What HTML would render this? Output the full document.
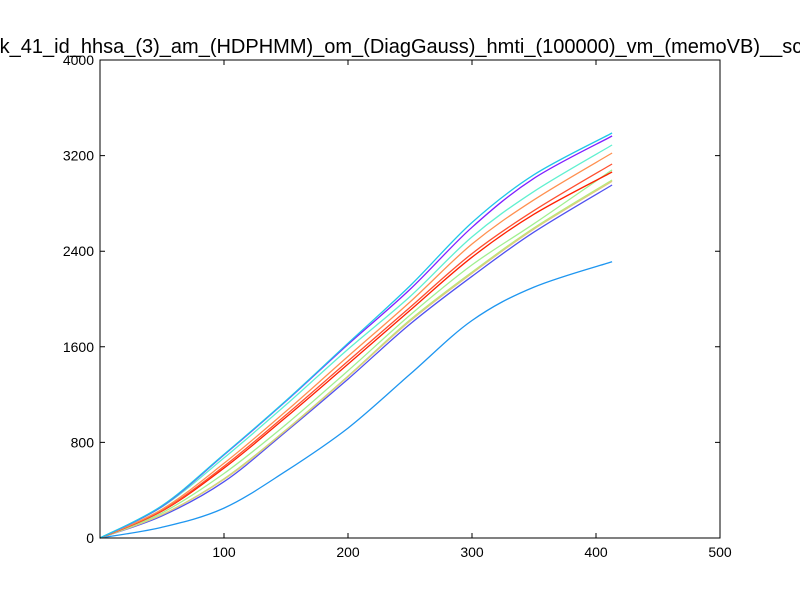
<!DOCTYPE html>
<html><head><meta charset="utf-8"><style>
body{margin:0;background:#fff;}
svg{display:block;font-family:"Liberation Sans",sans-serif;}
</style></head><body>
<svg id="c" width="800" height="600">
<rect width="800" height="600" fill="#fff"/>
<text x="-27" y="53" font-size="20" text-anchor="start">task_41_id_hhsa_(3)_am_(HDPHMM)_om_(DiagGauss)_hmti_(100000)_vm_(memoVB)__sc</text>
<g id="plot"></g>
<rect x="100" y="60" width="620" height="478" fill="none" stroke="#000" stroke-width="1"/>
<g id="axes"></g>
</svg>
<script>
const xs=[0,50,100,150,200,250,300,350,413];
const xTicks=[100,200,300,400,500];
const yTicks=[0,800,1600,2400,3200,4000];
const sCyan=[0,270,700,1150,1630,2110,2640,3040,3389];
const sPurple=[0,265,695,1145,1620,2080,2600,3010,3364];
const sAqua=[0,260,670,1115,1580,2020,2520,2900,3289];
const sOrange=[0,240,625,1060,1520,1975,2460,2830,3222];
const sRedOrange=[0,230,600,1030,1480,1930,2380,2740,3130];
const sRed=[0,225,585,1010,1455,1905,2350,2710,3063];
const sGreen=[0,210,540,950,1400,1865,2285,2630,3080];
const sKhaki=[0,195,490,900,1350,1815,2215,2585,2985];
const sYellowGreen=[0,195,495,905,1355,1825,2225,2595,2996];
const sBluePurple=[0,185,471,890,1330,1790,2190,2560,2954];
const sBlue=[0,90,250,560,920,1370,1820,2100,2312];
const series=[sBlue,sBluePurple,sYellowGreen,sKhaki,sGreen,sRed,sRedOrange,sOrange,sAqua,sPurple,sCyan];
const colors=["#1e96f0","#5050f0","#b4ee78","#e0c880","#a0f090","#ff2000","#ff5030","#ff9050","#60f0d0","#8020ff","#20c8e8"];
const names=["blue","blue-purple","yellow-green","khaki","green","red","red-orange","orange","aquamarine","purple","cyan"];
const X=v=>100+v*1.24, Y=v=>538-v*478/4000;
const ns="http://www.w3.org/2000/svg";
const plot=document.getElementById('plot'), axes=document.getElementById('axes');
function smooth(pts){
  let d='M'+pts[0][0].toFixed(1)+','+pts[0][1].toFixed(1);
  for(let i=0;i<pts.length-1;i++){
    const p0=pts[i-1]||pts[i],p1=pts[i],p2=pts[i+1],p3=pts[i+2]||p2;
    const c1=[p1[0]+(p2[0]-p0[0])/6,p1[1]+(p2[1]-p0[1])/6];
    const c2=[p2[0]-(p3[0]-p1[0])/6,p2[1]-(p3[1]-p1[1])/6];
    d+=`C${c1[0].toFixed(1)},${c1[1].toFixed(1)} ${c2[0].toFixed(1)},${c2[1].toFixed(1)} ${p2[0].toFixed(1)},${p2[1].toFixed(1)}`;
  }
  return d;
}
series.forEach((s,i)=>{
  const p=document.createElementNS(ns,'path');
  p.setAttribute('d',smooth(s.map((v,j)=>[X(xs[j]),Y(v)])));
  p.setAttribute('fill','none');p.setAttribute('stroke',colors[i]);p.setAttribute('stroke-width','1.3');
  
  
  plot.appendChild(p);
});
xTicks.forEach(t=>{
  const x=X(t);
  const l=document.createElementNS(ns,'path');
  l.setAttribute('d',`M${x},538v-5M${x},60v5`);l.setAttribute('stroke','#000');
  
  
  axes.appendChild(l);
  const tx=document.createElementNS(ns,'text');
  tx.setAttribute('x',x);tx.setAttribute('y',557);tx.setAttribute('font-size','14');tx.setAttribute('text-anchor','middle');
  tx.textContent=t;
  
  
  axes.appendChild(tx);
});
yTicks.forEach(t=>{
  const y=Y(t);
  const l=document.createElementNS(ns,'path');
  l.setAttribute('d',`M100,${y}h5M720,${y}h-5`);l.setAttribute('stroke','#000');
  
  
  axes.appendChild(l);
  const tx=document.createElementNS(ns,'text');
  tx.setAttribute('x',94);tx.setAttribute('y',y+5);tx.setAttribute('font-size','14');tx.setAttribute('text-anchor','end');
  tx.textContent=t;
  
  
  axes.appendChild(tx);
});
</script>
</body></html>
